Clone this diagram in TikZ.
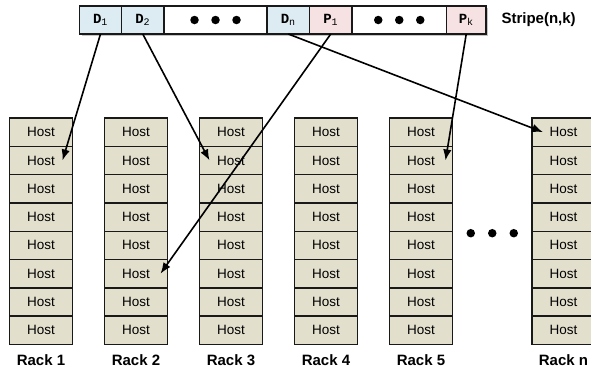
\documentclass[tikz,border=0pt]{standalone}
\usepackage{fontspec}
\setmainfont{Liberation Sans}
\setmonofont{Liberation Mono}
\usetikzlibrary{positioning, arrows.meta, calc, fit, shadows, backgrounds}
\definecolor{hostfill}{RGB}{226,223,205}
\definecolor{datafill}{RGB}{220,236,242}
\definecolor{parityfill}{RGB}{246,225,227}
\newcommand{\sub}[1]{\textsubscript{\mdseries\fontsize{10}{10}\selectfont #1}}

\begin{document}
\begin{tikzpicture}[
    x=1pt, y=-1pt,
    cell/.style={draw=black!90, line width=1.4pt, minimum height=28pt, inner sep=0pt, outer sep=0pt, font=\ttfamily\bfseries\fontsize{14}{16}\selectfont},
    datacell/.style={cell, fill=datafill},
    paritycell/.style={cell, fill=parityfill},
    gapcell/.style={cell, fill=white},
    host/.style={draw=black!90, fill=hostfill, line width=1.4pt, minimum width=63pt, minimum height=28.3pt, inner sep=0pt, outer sep=0pt, font=\fontsize{13.5}{15}\selectfont},
    racklabel/.style={font=\bfseries\fontsize{15}{17}\selectfont},
    arrow/.style={-{Latex[length=11pt,width=8.5pt]}, line width=1.6pt},
    bigdot/.style={circle, fill=black, inner sep=0pt, minimum size=8.5pt}
]
\useasboundingbox (0,0) rectangle (591,375);

% Stripe
\node[datacell, minimum width=42pt] (d1) at (100.5,20) {D\sub{1}};
\node[datacell, minimum width=42.5pt, right=0pt of d1] (d2) {D\sub{2}};
\node[gapcell, minimum width=103pt, right=0pt of d2] (gap1) {};
\node[datacell, minimum width=42.5pt, right=0pt of gap1] (dn) {D\sub{n}};
\node[paritycell, minimum width=42.5pt, right=0pt of dn] (p1) {P\sub{1}};
\node[gapcell, minimum width=94.5pt, right=0pt of p1] (gap2) {};
\node[paritycell, minimum width=39.5pt, right=0pt of gap2] (pk) {P\sub{k}};
\begin{scope}[on background layer]
\node[fit=(d1)(pk), inner sep=0pt, drop shadow={shadow xshift=2pt, shadow yshift=-2pt, fill=black!45}] (stripe) {};
\end{scope}
\foreach \k in {1,2,3} {
  \node[bigdot] (ga\k) at ($(gap1.center)+({(\k-2)*21},0)$) {};
  \node[bigdot] (gb\k) at ($(gap2.center)+({(\k-2)*21},0)$) {};
}
\node[racklabel, right=12pt of pk] (stripelabel) {Stripe(n,k)};

% Racks
\foreach \rk/\x in {1/41, 2/136, 3/231, 4/326, 5/421, n/563.5} {
  \foreach \j in {1,...,8}
    \node[host] (r\rk-\j) at (\x, {118+28.3*(\j-0.5)}) {Host};
  \node[racklabel, below=7pt of r\rk-8] (label\rk) {Rack \rk};
}

% Dots between racks
\coordinate (rackgap) at ($(r5-4.south east)!0.5!(rn-4.south west)+(0,2)$);
\foreach \k in {1,2,3}
  \node[bigdot] (rd\k) at ($(rackgap)+({(\k-2)*21.5},0)$) {};

% Placement arrows
\draw[arrow] (d1.south) -- ([xshift=-10pt]r1-2.east);
\draw[arrow] (d2.south) -- ([xshift=10pt]r3-2.west);
\draw[arrow] (dn.south) -- ([xshift=11pt]rn-1.west);
\draw[arrow] (p1.south) -- ([xshift=-7pt]r2-6.east);
\draw[arrow] (pk.south) -- ([xshift=-7pt]r5-2.east);

\end{tikzpicture}
\end{document}
